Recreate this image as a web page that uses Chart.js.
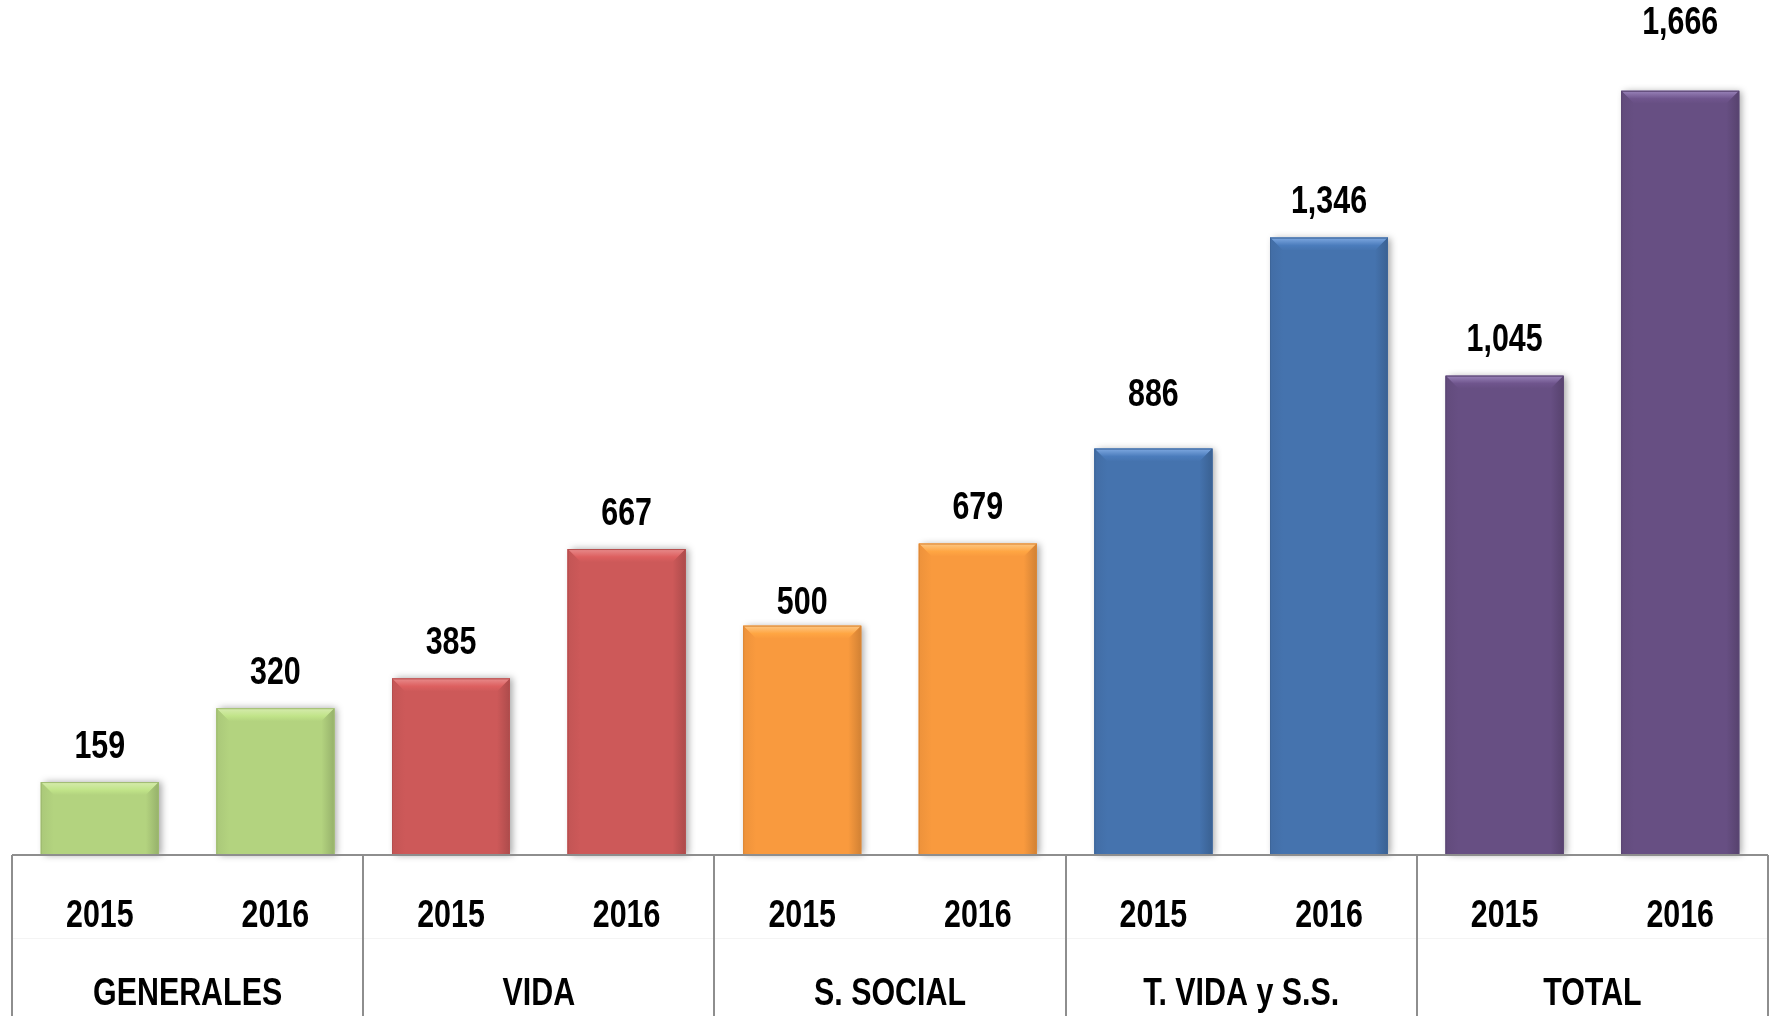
<!DOCTYPE html>
<html>
<head>
<meta charset="utf-8">
<script src="https://cdn.jsdelivr.net/npm/chart.js@4/dist/chart.umd.min.js"></script>
<style>
  html, body { margin: 0; padding: 0; background: #fff; }
  #wrap { width: 1771px; height: 1016px; }
</style>
</head>
<body>
<div id="wrap"><canvas id="chart"></canvas></div>
<script>
const GROUPS = ['GENERALES', 'VIDA', 'S. SOCIAL', 'T. VIDA y S.S.', 'TOTAL'];
const YEARS = ['2015', '2016'];
const VALUES_2015 = [159, 385, 500, 886, 1045];
const VALUES_2016 = [320, 667, 679, 1346, 1666];
const GROUP_COLORS = ['#B3D37F', '#CD5959', '#F99A3E', '#4573AE', '#674F83'];
const TOP_COLORS = ['#D6EBAE', '#E88C8C', '#FDC886', '#80AAE2', '#9A84BA'];

const FONT = '"Liberation Sans", Arial, sans-serif';

function shade(hex, amt) {
    let n = parseInt(hex.slice(1), 16);
    let r = (n >> 16) & 255, g = (n >> 8) & 255, b = n & 255;
    r = Math.max(0, Math.min(255, Math.round(r * amt)));
    g = Math.max(0, Math.min(255, Math.round(g * amt)));
    b = Math.max(0, Math.min(255, Math.round(b * amt)));
    return 'rgb(' + r + ',' + g + ',' + b + ')';
}

// Arial Narrow look: squeeze bold Liberation Sans horizontally
function narrowText(ctx, text, x, y) {
    ctx.save();
    ctx.translate(x, y);
    ctx.scale(0.8, 1);
    ctx.fillText(text, 0, 0);
    ctx.restore();
}

// shadows behind the bars
const barShadow = {
    id: 'barShadow',
    beforeDatasetsDraw(chart) {
        let ctx = chart.ctx;
        ctx.save();
        ctx.shadowColor = 'rgba(0,0,0,0.35)';
        ctx.shadowBlur = 7;
        ctx.shadowOffsetX = 3;
        ctx.shadowOffsetY = 0;
        chart.data.datasets.forEach((ds, d) => {
            chart.getDatasetMeta(d).data.forEach((bar, i) => {
                ctx.fillStyle = GROUP_COLORS[i];
                ctx.fillRect(bar.x - bar.width / 2, bar.y, bar.width, bar.base - bar.y);
            });
        });
        ctx.restore();
    }
};

// bevel look + value labels
const barBevel = {
    id: 'barBevel',
    afterDatasetsDraw(chart) {
        let ctx = chart.ctx;
        chart.data.datasets.forEach((ds, d) => {
            chart.getDatasetMeta(d).data.forEach((bar, i) => {
                let l = bar.x - bar.width / 2, r = bar.x + bar.width / 2;
                let t = bar.y, b = bar.base, bev = 13;
                ctx.save();
                // top band
                let g = ctx.createLinearGradient(0, t, 0, t + bev);
                g.addColorStop(0, TOP_COLORS[i]);
                g.addColorStop(0.6, shade(GROUP_COLORS[i], 1.08));
                g.addColorStop(1, GROUP_COLORS[i]);
                ctx.fillStyle = g;
                ctx.beginPath();
                ctx.moveTo(l, t);
                ctx.lineTo(r, t);
                ctx.lineTo(r - bev, t + bev);
                ctx.lineTo(l + bev, t + bev);
                ctx.closePath();
                ctx.fill();
                // right side darker
                let gr = ctx.createLinearGradient(r - bev, 0, r, 0);
                gr.addColorStop(0, GROUP_COLORS[i]);
                gr.addColorStop(1, shade(GROUP_COLORS[i], 0.84));
                ctx.fillStyle = gr;
                ctx.beginPath();
                ctx.moveTo(r, t);
                ctx.lineTo(r, b);
                ctx.lineTo(r - bev, b);
                ctx.lineTo(r - bev, t + bev);
                ctx.closePath();
                ctx.fill();
                // left side slightly darker edge
                let gl = ctx.createLinearGradient(l, 0, l + bev, 0);
                gl.addColorStop(0, shade(GROUP_COLORS[i], 0.95));
                gl.addColorStop(1, GROUP_COLORS[i]);
                ctx.fillStyle = gl;
                ctx.beginPath();
                ctx.moveTo(l, t);
                ctx.lineTo(l + bev, t + bev);
                ctx.lineTo(l + bev, b);
                ctx.lineTo(l, b);
                ctx.closePath();
                ctx.fill();
                ctx.strokeStyle = shade(GROUP_COLORS[i], 0.88);
                ctx.lineWidth = 1;
                ctx.strokeRect(l + 0.5, t + 0.5, bar.width - 1, b - t);
                ctx.restore();

                // value label
                let v = ds.data[i];
                let lift = chart.options.plugins.barBevel.lift[d + '-' + i] || 0;
                ctx.save();
                ctx.fillStyle = '#000';
                ctx.font = 'bold 38px ' + FONT;
                ctx.textAlign = 'center';
                ctx.textBaseline = 'middle';
                narrowText(ctx, v.toLocaleString('en-US'), bar.x, t - 35 - lift);
                ctx.restore();
            });
        });
    }
};

// table-like category axis below the bars
const tableAxis = {
    id: 'tableAxis',
    afterDraw(chart) {
        let ctx = chart.ctx;
        let area = chart.chartArea;
        let xs = chart.scales.x;
        let bottom = chart.height;
        ctx.save();
        // faint row divider
        ctx.strokeStyle = '#F4F4F4';
        ctx.lineWidth = 1;
        ctx.beginPath();
        ctx.moveTo(area.left, area.bottom + 83.5);
        ctx.lineTo(area.right, area.bottom + 83.5);
        ctx.stroke();

        ctx.strokeStyle = '#8E8E8E';
        ctx.lineWidth = 2;
        ctx.beginPath();
        ctx.moveTo(area.left, area.bottom);
        ctx.lineTo(area.right, area.bottom);
        let edges = [area.left];
        for (let i = 0; i < GROUPS.length - 1; i++) {
            edges.push((xs.getPixelForValue(i) + xs.getPixelForValue(i + 1)) / 2);
        }
        edges.push(area.right);
        edges.forEach(x => {
            ctx.moveTo(Math.round(x), area.bottom);
            ctx.lineTo(Math.round(x), bottom);
        });
        ctx.stroke();

        ctx.fillStyle = '#000';
        ctx.font = 'bold 38px ' + FONT;
        ctx.textAlign = 'center';
        ctx.textBaseline = 'middle';
        chart.data.datasets.forEach((ds, d) => {
            chart.getDatasetMeta(d).data.forEach(bar => {
                narrowText(ctx, YEARS[d], bar.x, area.bottom + 62);
            });
        });
        GROUPS.forEach((g, i) => {
            narrowText(ctx, g, xs.getPixelForValue(i), area.bottom + 140);
        });
        ctx.restore();
    }
};

new Chart(document.getElementById('chart'), {
    type: 'bar',
    data: {
        labels: GROUPS,
        datasets: [
            { label: YEARS[0], data: VALUES_2015, backgroundColor: GROUP_COLORS },
            { label: YEARS[1], data: VALUES_2016, backgroundColor: GROUP_COLORS }
        ]
    },
    options: {
        responsive: true,
        maintainAspectRatio: false,
        animation: false,
        layout: { padding: { left: 12, right: 3, top: 0, bottom: 161 } },
        datasets: {
            bar: { categoryPercentage: 1.0, barPercentage: 0.672, borderWidth: 0 }
        },
        scales: {
            x: { display: false },
            y: { display: false, min: 0, max: 1864 }
        },
        plugins: {
            legend: { display: false },
            tooltip: { enabled: false },
            // labels the original moved off their default spot
            barBevel: { lift: { '0-2': -13, '0-3': 18, '1-4': 32 } }
        }
    },
    plugins: [barShadow, barBevel, tableAxis]
});
</script>
</body>
</html>
